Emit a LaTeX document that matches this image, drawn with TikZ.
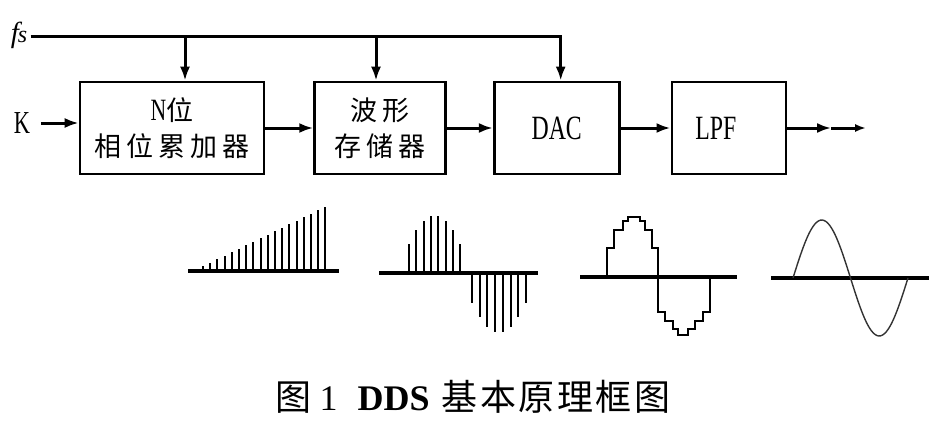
\documentclass[tikz,border=0pt]{standalone}
\usepackage{fontspec}
\setmainfont{Liberation Serif}
\newfontfamily\cjk[LetterSpace=18]{Noto Sans CJK SC}
\newfontfamily\capcjk[LetterSpace=7]{Noto Sans CJK SC}
\newfontfamily\narrow[FakeStretch=0.7]{Liberation Serif}
\usepackage{tikz}
\usetikzlibrary{positioning}
\usetikzlibrary{arrows.meta}

\begin{document}
\begin{tikzpicture}[x=1pt,y=-1pt,line width=3pt,
      block style/.style={rectangle,draw=black,line width=2.6pt,minimum
        width=#1,minimum height=92pt,inner sep=0pt,align=center,
        font=\fontsize{27}{36}\selectfont},
      latin style/.style={font=\fontsize{34}{40}\selectfont\narrow},
      arr/.style={-{Latex[length=14pt,width=10pt]}},
      axis line/.style={line width=3.5pt},
      bar/.style={line width=2pt}
      ]
      \useasboundingbox (0,0) rectangle (941,433);

      % blocks
      \node[block style=184pt] (acc) at (172,128)
        {{\fontsize{31}{36}\selectfont\narrow N}{\cjk 位}\\{\cjk 相位累加器}};
      \node[block style=131pt, right=48pt of acc] (rom) {{\cjk 波形}\\{\cjk 存储器}};
      \node[block style=125pt, latin style, right=46pt of rom] (dac) {DAC};
      \node[block style=114pt, latin style, right=50pt of dac] (lpf) {LPF\hspace*{26pt}};

      % inputs
      \node[font=\fontsize{29}{32}\selectfont\itshape, inner sep=2pt] (fs) at (19,35) {f\kern-1pt{\fontsize{24}{24}\selectfont s}};
      \node[font=\fontsize{32}{36}\selectfont\narrow] (k) at (22,123) {K};
      \coordinate (tap1) at (185,37);
      \coordinate (tap2) at (376,37);

      \draw[arr] (fs.east |- tap1) -| ([xshift=4pt]dac.north);
      \draw[arr] (tap1) -- (tap1 |- acc.north);
      \draw[arr] (tap2) -- (tap2 |- rom.north);
      \draw[arr, shorten <=6pt] (k.east) -- (k.east -| acc.west);

      \draw[arr] (acc) -- (rom);
      \draw[arr] (rom) -- (dac);
      \draw[arr] (dac) -- (lpf);

      % output
      \coordinate[right=44pt of lpf.east] (mid);
      \coordinate[right=79pt of lpf.east] (out);
      \draw[arr] (lpf) -- (mid);
      \draw[-{Latex[length=11pt,width=8pt]}] (mid) -- (out);

      % phase ramp
      \draw[axis line] (188,271) -- (339,271);
      \foreach \i in {0,...,17}
        \draw[bar] ({203+7.2*\i},271) -- ++(0,{-(5+3.5*\i)});

      % sampled sine
      \draw[axis line] (379,273) -- (538,273);
      \foreach \i in {0,...,7} {
        \draw[bar] ({409+7.3*\i},273) -- ++(0,{-58*sin(30+17.14*\i)});
        \draw[bar] ({472+7.7*\i},273) -- ++(0,{60*sin(30+17.14*\i)});
      }

      % staircase
      \draw[axis line] (580,277) -- (737,277);
      \draw[line width=1.6pt] (607,277) -- (607,248) -- (614,248) -- (614,230)
        -- (623,230) -- (623,221) -- (628,221) -- (628,217) -- (640,217)
        -- (640,221) -- (645,221) -- (645,230) -- (652,230) -- (652,248)
        -- (658,248) -- (658,312) -- (665,312) -- (665,321) -- (673,321)
        -- (673,329) -- (678,329) -- (678,335) -- (688,335) -- (688,329)
        -- (695,329) -- (695,321) -- (703,321) -- (703,312) -- (710,312)
        -- (710,277);

      % filtered sine
      \draw[axis line] (771,278) -- (929,278);
      \draw[line width=1.4pt, black!80, domain=0:360, samples=60, smooth]
        plot ({793+0.3194*\x},{278-58*sin(\x)});

      % caption
      \node[font=\fontsize{36}{40}\selectfont] (cap) at (473,397)
        {{\capcjk 图}\hspace{8pt}1\hspace{20pt}{\bfseries DDS}\hspace{12pt}{\capcjk 基本原理框图}};
    \end{tikzpicture}
\end{document}
